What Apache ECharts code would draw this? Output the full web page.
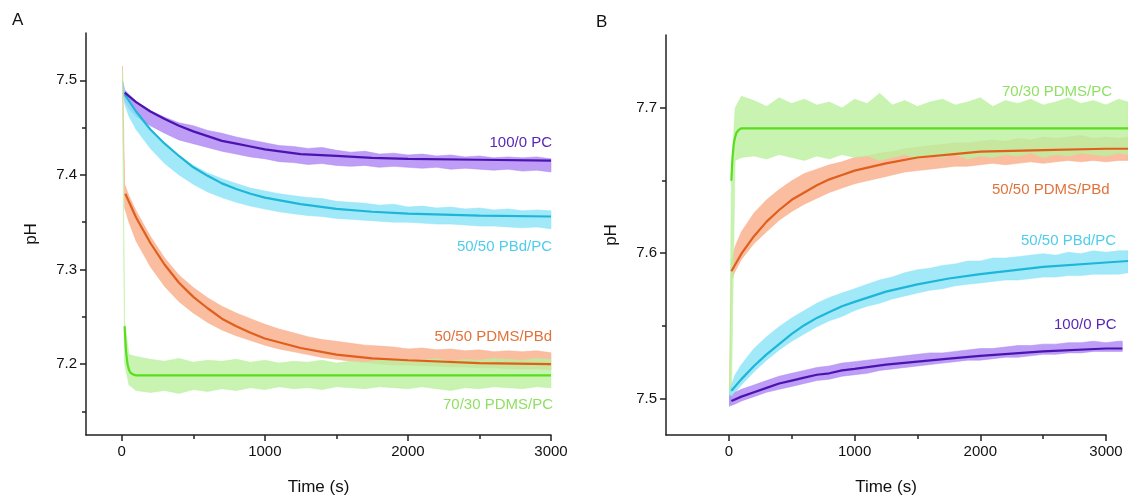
<!DOCTYPE html>
<html><head><meta charset="utf-8">
<script src="https://cdn.jsdelivr.net/npm/echarts@6/dist/echarts.min.js"></script>
<style>html,body{margin:0;padding:0;background:#fff}#c{width:1128px;height:501px}</style>
</head><body><div id="c"></div>
<script>
// ---------- Panel A (decay) ----------
const TA = [5,20,50,100,200,300,400,500,600,700,800,900,1000,1100,1200,1300,1400,1500,1600,1700,1800,1900,2000,2100,2200,2300,2400,2500,2600,2700,2800,2900,3000];
const A_PC_UP = [7.500,7.490,7.485,7.478,7.468,7.461,7.455,7.452,7.447,7.444,7.440,7.437,7.434,7.431,7.430,7.428,7.429,7.426,7.424,7.425,7.422,7.423,7.421,7.422,7.420,7.421,7.419,7.420,7.418,7.419,7.418,7.419,7.417];
const A_PC_LO = [7.495,7.478,7.470,7.462,7.452,7.444,7.437,7.433,7.429,7.425,7.422,7.419,7.417,7.414,7.413,7.411,7.412,7.410,7.409,7.410,7.408,7.409,7.408,7.407,7.408,7.406,7.407,7.406,7.405,7.406,7.404,7.405,7.403];
const A_PBDPC_UP = [7.500,7.488,7.478,7.466,7.448,7.432,7.420,7.410,7.402,7.396,7.391,7.386,7.383,7.380,7.378,7.376,7.375,7.372,7.371,7.370,7.368,7.369,7.366,7.367,7.365,7.366,7.364,7.365,7.363,7.364,7.362,7.363,7.362];
const A_PBDPC_LO = [7.495,7.475,7.462,7.448,7.428,7.412,7.400,7.390,7.382,7.376,7.371,7.367,7.364,7.361,7.359,7.357,7.356,7.354,7.353,7.352,7.351,7.350,7.350,7.349,7.348,7.348,7.347,7.346,7.346,7.345,7.344,7.345,7.343];
const A_PDMSPBD_UP = [7.515,7.390,7.378,7.362,7.335,7.312,7.294,7.281,7.270,7.261,7.254,7.248,7.242,7.237,7.233,7.229,7.226,7.224,7.222,7.220,7.219,7.218,7.216,7.217,7.215,7.216,7.214,7.215,7.213,7.214,7.213,7.214,7.212];
const A_PDMSPBD_LO = [7.495,7.365,7.350,7.330,7.303,7.282,7.266,7.254,7.244,7.236,7.230,7.225,7.220,7.216,7.213,7.210,7.207,7.205,7.203,7.202,7.200,7.199,7.199,7.198,7.198,7.197,7.197,7.196,7.196,7.195,7.195,7.195,7.194];
const A_PDMSPC_UP = [7.510,7.245,7.210,7.208,7.205,7.203,7.206,7.202,7.204,7.203,7.205,7.202,7.204,7.201,7.203,7.202,7.204,7.201,7.203,7.202,7.204,7.205,7.203,7.204,7.206,7.203,7.205,7.204,7.206,7.205,7.204,7.206,7.205];
const A_PDMSPC_LO = [7.490,7.200,7.178,7.172,7.170,7.172,7.169,7.173,7.171,7.174,7.172,7.175,7.173,7.176,7.174,7.175,7.173,7.176,7.175,7.174,7.176,7.175,7.174,7.176,7.174,7.172,7.175,7.174,7.176,7.175,7.174,7.176,7.175];
const FIT_A_PC = [[20,7.487],[100,7.477],[200,7.467],[300,7.459],[400,7.452],[500,7.446],[600,7.441],[700,7.436],[800,7.433],[900,7.430],[1000,7.427],[1250,7.422],[1500,7.420],[1750,7.418],[2000,7.417],[2500,7.416],[3000,7.415]];
const FIT_A_PBDPC = [[20,7.485],[100,7.467],[200,7.448],[300,7.433],[400,7.420],[500,7.408],[600,7.399],[700,7.391],[800,7.385],[900,7.380],[1000,7.376],[1250,7.369],[1500,7.364],[1750,7.361],[2000,7.359],[2500,7.357],[3000,7.356]];
const FIT_A_PDMSPBD = [[25,7.380],[100,7.355],[200,7.328],[300,7.305],[400,7.286],[500,7.271],[600,7.259],[700,7.248],[800,7.240],[900,7.233],[1000,7.227],[1250,7.217],[1500,7.210],[1750,7.206],[2000,7.204],[2500,7.201],[3000,7.200]];
const FIT_A_PDMSPC = [[20,7.240],[25,7.225],[30,7.213],[40,7.200],[50,7.194],[60,7.191],[80,7.189],[100,7.188],[1000,7.188],[2000,7.188],[3000,7.188]];

// ---------- Panel B (rise) ----------
const TB = [5,20,50,100,200,300,400,500,600,700,800,900,1000,1100,1200,1300,1400,1500,1600,1700,1800,1900,2000,2100,2200,2300,2400,2500,2600,2700,2800,2900,3000,3100,3175];
const TB_PC = [5,20,50,100,200,300,400,500,600,700,800,900,1000,1100,1200,1300,1400,1500,1600,1700,1800,1900,2000,2100,2200,2300,2400,2500,2600,2700,2800,2900,3000,3100,3130];
const B_PDMSPC_UP = [7.505,7.655,7.700,7.708,7.705,7.701,7.707,7.703,7.706,7.702,7.704,7.700,7.706,7.703,7.710,7.702,7.705,7.701,7.704,7.706,7.702,7.704,7.707,7.701,7.705,7.703,7.706,7.702,7.704,7.707,7.703,7.705,7.702,7.706,7.704];
const B_PDMSPC_LO = [7.495,7.500,7.664,7.666,7.667,7.665,7.668,7.666,7.664,7.667,7.665,7.668,7.666,7.667,7.664,7.666,7.668,7.665,7.667,7.666,7.668,7.665,7.667,7.666,7.668,7.667,7.669,7.666,7.668,7.667,7.669,7.668,7.667,7.669,7.668];
const B_PDMSPBD_UP = [7.505,7.595,7.605,7.615,7.628,7.637,7.644,7.650,7.655,7.658,7.661,7.663,7.666,7.667,7.669,7.670,7.672,7.673,7.674,7.675,7.676,7.676,7.677,7.678,7.677,7.679,7.678,7.680,7.679,7.680,7.681,7.679,7.680,7.679,7.680];
const B_PDMSPBD_LO = [7.495,7.582,7.588,7.596,7.607,7.615,7.623,7.629,7.634,7.638,7.642,7.645,7.648,7.650,7.652,7.654,7.656,7.657,7.658,7.659,7.660,7.660,7.661,7.662,7.661,7.662,7.663,7.662,7.663,7.664,7.663,7.664,7.663,7.664,7.664];
const B_PBDPC_UP = [7.505,7.510,7.517,7.524,7.535,7.543,7.550,7.556,7.561,7.566,7.570,7.573,7.576,7.579,7.582,7.584,7.587,7.589,7.590,7.592,7.593,7.595,7.595,7.597,7.597,7.598,7.599,7.600,7.599,7.601,7.600,7.602,7.601,7.602,7.602];
const B_PBDPC_LO = [7.495,7.502,7.505,7.510,7.519,7.527,7.534,7.540,7.545,7.550,7.554,7.557,7.561,7.564,7.566,7.569,7.571,7.573,7.575,7.576,7.578,7.579,7.580,7.581,7.582,7.582,7.583,7.584,7.584,7.585,7.585,7.586,7.586,7.586,7.587];
const B_PC_UP = [7.503,7.502,7.505,7.507,7.510,7.513,7.516,7.518,7.520,7.522,7.523,7.525,7.526,7.527,7.528,7.529,7.530,7.531,7.532,7.532,7.533,7.534,7.535,7.535,7.536,7.537,7.537,7.538,7.538,7.539,7.539,7.540,7.539,7.540,7.540];
const B_PC_LO = [7.496,7.496,7.497,7.499,7.502,7.505,7.507,7.509,7.511,7.513,7.514,7.516,7.517,7.518,7.520,7.521,7.522,7.523,7.524,7.525,7.526,7.527,7.527,7.528,7.529,7.529,7.530,7.531,7.531,7.532,7.532,7.533,7.533,7.533,7.533];
const FIT_B_PC = [[20,7.499],[100,7.502],[200,7.505],[300,7.508],[400,7.511],[500,7.513],[600,7.515],[700,7.517],[800,7.518],[900,7.520],[1000,7.521],[1250,7.524],[1500,7.526],[1750,7.528],[2000,7.530],[2500,7.533],[3000,7.535],[3130,7.535]];
const FIT_B_PBDPC = [[20,7.506],[100,7.514],[200,7.523],[300,7.531],[400,7.538],[500,7.545],[600,7.551],[700,7.556],[800,7.560],[900,7.564],[1000,7.567],[1250,7.574],[1500,7.579],[1750,7.583],[2000,7.586],[2500,7.591],[3000,7.594],[3175,7.595]];
const FIT_B_PDMSPBD = [[20,7.588],[100,7.600],[200,7.612],[300,7.622],[400,7.630],[500,7.637],[600,7.642],[700,7.647],[800,7.651],[900,7.654],[1000,7.657],[1250,7.662],[1500,7.666],[1750,7.668],[2000,7.670],[2500,7.671],[3000,7.672],[3175,7.672]];
const FIT_B_PDMSPC = [[20,7.650],[25,7.660],[30,7.667],[40,7.676],[50,7.680],[60,7.683],[80,7.685],[100,7.686],[1000,7.686],[2000,7.686],[3175,7.686]];

// ticks
const X_MAJOR = [0,1000,2000,3000];
const X_MINOR = [500,1500,2500];
const YA_MAJOR = [7.2,7.3,7.4,7.5];
const YA_MINOR = [7.15,7.25,7.35,7.45];
const YB_MAJOR = [7.5,7.6,7.7];
const YB_MINOR = [7.55,7.65];

const C = {
  pc:   {fit:'#4b14b0', raw:'#ad85f3', txt:'#5a26b5'},
  pbd:  {fit:'#1db6d8', raw:'#8ae3f8', txt:'#4fcdec'},
  pdb:  {fit:'#df5f1c', raw:'#f9ad88', txt:'#e0733c'},
  pdc:  {fit:'#58de1c', raw:'#baf09d', txt:'#8fe062'}
};
const FONT = 'Liberation Sans, Arial, sans-serif';
const AX = '#222';

function band(xi, yi, T, up, lo, color, z) {
  return {
    type:'custom', xAxisIndex:xi, yAxisIndex:yi, silent:true, z:z,
    data:[[T[0], up[0]]],
    renderItem:function(params, api){
      const pts=[];
      for (let i=0;i<T.length;i++) pts.push(api.coord([T[i], up[i]]));
      for (let i=T.length-1;i>=0;i--) pts.push(api.coord([T[i], lo[i]]));
      return {type:'polygon', shape:{points:pts}, style:{fill:color, opacity:0.8, stroke:color, lineWidth:0.6}};
    }
  };
}
function fit(xi, yi, data, color) {
  return {type:'line', xAxisIndex:xi, yAxisIndex:yi, data:data, showSymbol:false, smooth:false,
    lineStyle:{color:color, width:2.2}, z:5, silent:true};
}
function majorX(grid, min, max, name) {
  return {type:'value', gridIndex:grid, min:min, max:max, position:'bottom',
    axisLine:{show:true, onZero:false, lineStyle:{color:AX, width:1.5}},
    axisTick:{show:true, customValues:X_MAJOR, length:6, lineStyle:{color:AX, width:1.5}},
    axisLabel:{customValues:X_MAJOR, color:'#111', fontSize:15, fontFamily:FONT, margin:9,
      formatter:function(v){return String(v);}},
    splitLine:{show:false},
    name:name, nameLocation:'middle', nameGap:44, nameTextStyle:{fontSize:17, color:'#111', fontFamily:FONT}};
}
function minorX(grid, min, max) {
  return {type:'value', gridIndex:grid, min:min, max:max, position:'bottom',
    axisLine:{show:false, onZero:false}, axisLabel:{show:false}, splitLine:{show:false},
    axisTick:{show:true, customValues:X_MINOR, length:4, lineStyle:{color:AX, width:1.5}}};
}
function majorY(grid, min, max, vals) {
  return {type:'value', gridIndex:grid, min:min, max:max, position:'left',
    axisLine:{show:true, onZero:false, lineStyle:{color:AX, width:1.5}},
    axisTick:{show:true, customValues:vals, length:6, lineStyle:{color:AX, width:1.5}},
    axisLabel:{customValues:vals, color:'#111', fontSize:15, fontFamily:FONT, margin:9,
      formatter:function(v){return v.toFixed(1);}},
    splitLine:{show:false},
    name:'pH', nameLocation:'middle', nameGap:46, nameTextStyle:{fontSize:17, color:'#111', fontFamily:FONT}};
}
function minorY(grid, min, max, vals) {
  return {type:'value', gridIndex:grid, min:min, max:max, position:'left',
    axisLine:{show:false, onZero:false}, axisLabel:{show:false}, splitLine:{show:false},
    axisTick:{show:true, customValues:vals, length:4, lineStyle:{color:AX, width:1.5}}};
}
function hidden(grid, min, max) {
  return {type:'value', gridIndex:grid, min:min, max:max, show:false, splitLine:{show:false}};
}
function label(x, y, text, color, align) {
  return {type:'text', x:x, y:y, style:{text:text, fill:color, font:'15px '+FONT, textAlign:align, textVerticalAlign:'middle'}};
}

const chart = echarts.init(document.getElementById('c'), null, {renderer:'canvas'});
chart.setOption({
  animation:false,
  backgroundColor:'#fff',
  grid:[
    {left:86, right:577, top:33, bottom:65},
    {left:666, right:22, top:35, bottom:65},
    {left:666, right:0, top:35, bottom:65}
  ],
  xAxis:[
    majorX(0,-250,3000,'Time (s)'), minorX(0,-250,3000),
    majorX(1,-500,3000,'Time (s)'), minorX(1,-500,3000),
    hidden(2,-500,3175)
  ],
  yAxis:[
    majorY(0,7.125,7.55,YA_MAJOR), minorY(0,7.125,7.55,YA_MINOR),
    majorY(1,7.475,7.75,YB_MAJOR), minorY(1,7.475,7.75,YB_MINOR),
    hidden(2,7.475,7.75)
  ],
  series:[
    band(0,0,TA,A_PC_UP,A_PC_LO,C.pc.raw,1),
    band(0,0,TA,A_PBDPC_UP,A_PBDPC_LO,C.pbd.raw,1),
    band(0,0,TA,A_PDMSPBD_UP,A_PDMSPBD_LO,C.pdb.raw,2),
    band(0,0,TA,A_PDMSPC_UP,A_PDMSPC_LO,C.pdc.raw,2),
    fit(0,0,FIT_A_PDMSPBD,C.pdb.fit),
    fit(0,0,FIT_A_PDMSPC,C.pdc.fit),
    fit(0,0,FIT_A_PBDPC,C.pbd.fit),
    fit(0,0,FIT_A_PC,C.pc.fit),
    band(4,4,TB,B_PDMSPBD_UP,B_PDMSPBD_LO,C.pdb.raw,1),
    band(4,4,TB,B_PDMSPC_UP,B_PDMSPC_LO,C.pdc.raw,2),
    band(4,4,TB,B_PBDPC_UP,B_PBDPC_LO,C.pbd.raw,2),
    band(4,4,TB_PC,B_PC_UP,B_PC_LO,C.pc.raw,2),
    fit(4,4,FIT_B_PDMSPBD,C.pdb.fit),
    fit(4,4,FIT_B_PDMSPC,C.pdc.fit),
    fit(4,4,FIT_B_PBDPC,C.pbd.fit),
    fit(4,4,FIT_B_PC,C.pc.fit)
  ],
  graphic:[
    {type:'text', x:12, y:12, style:{text:'A', fill:'#111', font:'17px '+FONT}},
    {type:'text', x:596, y:14, style:{text:'B', fill:'#111', font:'17px '+FONT}},
    label(552,143,'100/0 PC',C.pc.txt,'right'),
    label(552,247,'50/50 PBd/PC',C.pbd.txt,'right'),
    label(552,337,'50/50 PDMS/PBd',C.pdb.txt,'right'),
    label(553,405,'70/30 PDMS/PC',C.pdc.txt,'right'),
    label(1002,92,'70/30 PDMS/PC',C.pdc.txt,'left'),
    label(992,190,'50/50 PDMS/PBd',C.pdb.txt,'left'),
    label(1021,241,'50/50 PBd/PC',C.pbd.txt,'left'),
    label(1054,325,'100/0 PC',C.pc.txt,'left')
  ]
});
</script></body></html>
